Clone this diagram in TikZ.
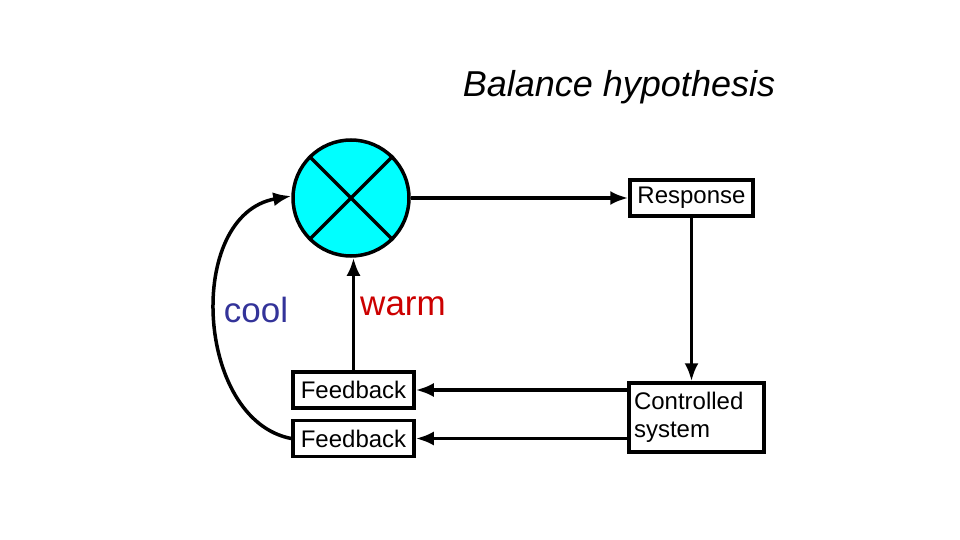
\documentclass[tikz,border=0pt]{standalone}
\usepackage{fontspec}
\setmainfont{Liberation Sans}
\usetikzlibrary{arrows.meta}
\definecolor{sumfill}{RGB}{0,255,255}
\definecolor{coolc}{RGB}{51,51,153}
\definecolor{warmc}{RGB}{204,0,0}
\begin{document}
\begin{tikzpicture}[x=1pt,y=-1pt,
  box/.style={draw,line width=3.5pt,inner sep=0pt,font=\fontsize{24}{28}\selectfont},
  arr/.style={line width=3.5pt,-{Latex[length=18pt,width=14pt]}}]
\useasboundingbox (0,0) rectangle (960,540);
\node[font=\fontsize{36}{42}\selectfont\itshape] (title) at (619,87) {Balance hypothesis};
\node[circle,draw,fill=sumfill,line width=3.5pt,minimum size=116pt,inner sep=0pt] (sum) at (351,198) {};
\draw[line width=3.5pt] (sum.north west) -- (sum.south east) (sum.north east) -- (sum.south west);
\node[box,minimum width=123pt,minimum height=36pt] (resp) at (691.5,198) {Response};
\node[box,minimum width=135pt,minimum height=69pt,align=left,text width=125pt] (sys) at (696.5,417.5) {Controlled\\system};
\node[box,minimum width=121pt,minimum height=36pt] (fb1) at (353.5,390) {Feedback};
\node[box,minimum width=121pt,minimum height=36pt] (fb2) at (353.5,438.5) {Feedback};
\node[font=\fontsize{35}{40}\selectfont,text=coolc] (cool) at (256,310) {cool};
\node[font=\fontsize{35}{40}\selectfont,text=warmc] (warm) at (403,306) {warm};
\draw[arr] (sum.east) -- (resp.west);
\draw[arr] (resp.south) -- (sys.north -| resp.south);
\coordinate (s1) at (sys.west |- fb1.east);
\coordinate (s2) at (sys.west |- fb2.east);
\draw[arr] (s1) -- (fb1.east);
\draw[arr] (s2) -- (fb2.east);
\draw[arr] (fb1.north) -- (sum.south -| fb1.north);
\draw[arr] (fb2.west) .. controls (195,420) and (185,215) .. (sum.west |- 0,196);
\end{tikzpicture}
\end{document}
